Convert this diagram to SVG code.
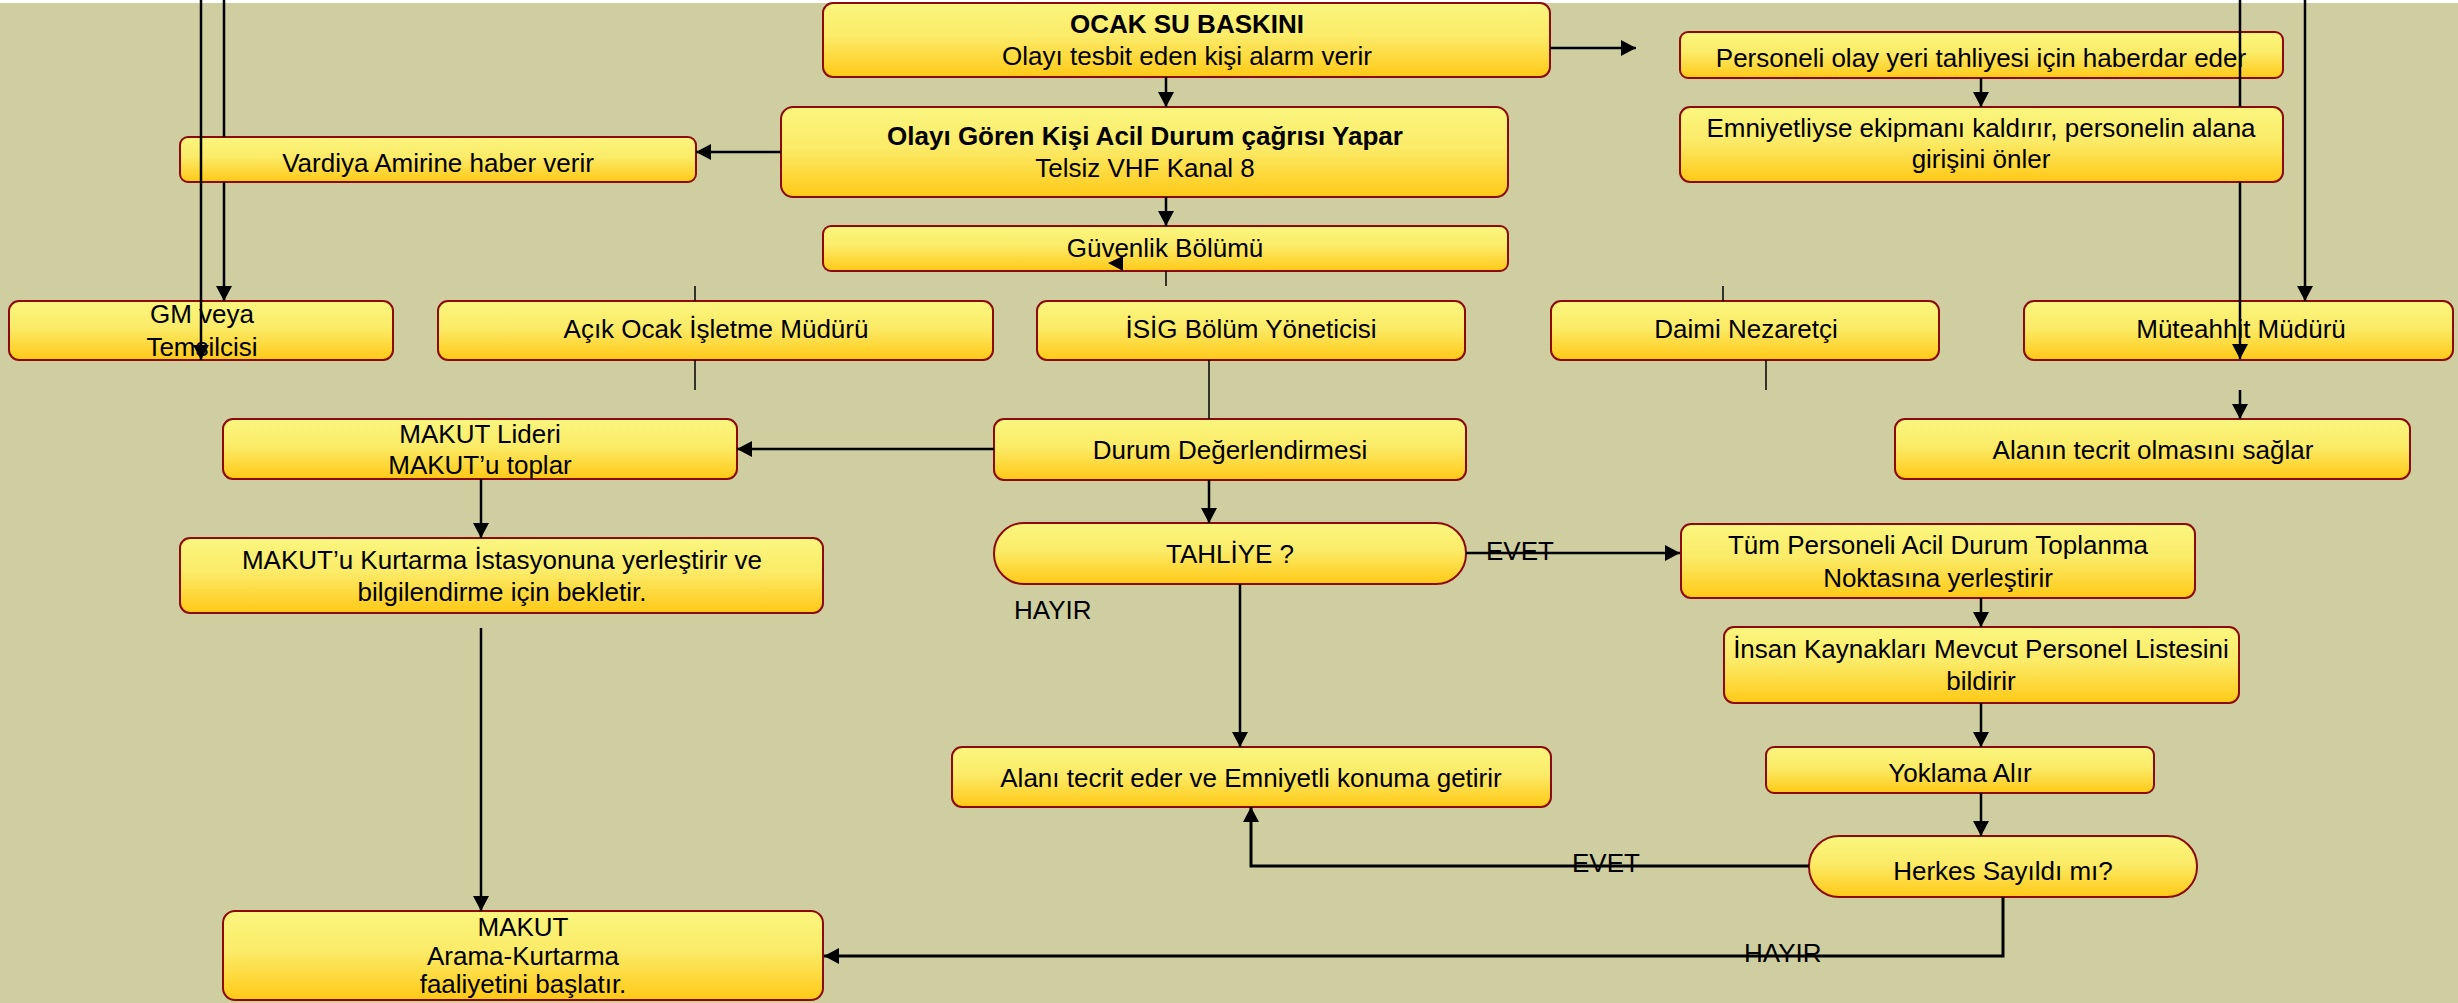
<svg xmlns="http://www.w3.org/2000/svg" width="2458" height="1003" viewBox="0 0 2458 1003">
<defs>
<linearGradient id="gy" x1="0" y1="0" x2="0" y2="1">
<stop offset="0" stop-color="#FAF67F"/>
<stop offset="0.45" stop-color="#FBEB68"/>
<stop offset="1" stop-color="#FFC916"/>
</linearGradient>
<marker id="ah" markerUnits="userSpaceOnUse" markerWidth="16" markerHeight="16" refX="15" refY="8" orient="auto">
<path d="M0,0 L15,8 L0,16 z" fill="#000"/>
</marker>
</defs>
<style>
.box{fill:url(#gy);stroke:#8B0A0A;stroke-width:2}
.t{font-family:"Liberation Sans",Arial,sans-serif;font-size:26px;fill:#000;text-anchor:middle}
.b{font-weight:bold}
.l{font-family:"Liberation Sans",Arial,sans-serif;font-size:26px;fill:#000}
.c{fill:none;stroke:#000;stroke-width:2.5}
.c3{fill:none;stroke:#000;stroke-width:3}
.th{fill:none;stroke:#000;stroke-width:1.5}
.a{marker-end:url(#ah)}
</style>
<rect x="0" y="0" width="2458" height="1003" fill="#FFFFFF"/>
<rect x="0" y="3" width="2458" height="1000" fill="#CFCEA0"/>

<g id="n-ocak"><rect class="box" x="823" y="3" width="727" height="74" rx="10"/>
<text class="t b" x="1187" y="33">OCAK SU BASKINI</text>
<text class="t" x="1187" y="65">Olayı tesbit eden kişi alarm verir</text></g>

<g id="n-olay"><rect class="box" x="781" y="107" width="727" height="90" rx="12"/>
<text class="t b" x="1145" y="145">Olayı Gören Kişi Acil Durum çağrısı Yapar</text>
<text class="t" x="1145" y="177">Telsiz VHF Kanal 8</text></g>

<g id="n-guvenlik"><rect class="box" x="823" y="226" width="685" height="45" rx="8"/>
<text class="t" x="1165" y="257">Güvenlik Bölümü</text></g>

<g id="n-vardiya"><rect class="box" x="180" y="137" width="516" height="45" rx="8"/>
<text class="t" x="438" y="172">Vardiya Amirine haber verir</text></g>

<g id="n-gm"><rect class="box" x="9" y="301" width="384" height="59" rx="10"/>
<text class="t" x="202" y="323">GM veya</text>
<text class="t" x="202" y="356">Temsilcisi</text></g>

<g id="n-acik"><rect class="box" x="438" y="301" width="555" height="59" rx="10"/>
<text class="t" x="716" y="338">Açık Ocak İşletme Müdürü</text></g>

<g id="n-isig"><rect class="box" x="1037" y="301" width="428" height="59" rx="10"/>
<text class="t" x="1251" y="338">İSİG Bölüm Yöneticisi</text></g>

<g id="n-daimi"><rect class="box" x="1551" y="301" width="388" height="59" rx="10"/>
<text class="t" x="1746" y="338">Daimi Nezaretçi</text></g>

<g id="n-muteahhit"><rect class="box" x="2024" y="301" width="429" height="59" rx="10"/>
<text class="t" x="2241" y="338">Müteahhit Müdürü</text></g>

<g id="n-personeli"><rect class="box" x="1680" y="32" width="603" height="46" rx="8"/>
<text class="t" x="1981" y="67">Personeli olay yeri tahliyesi için haberdar eder</text></g>

<g id="n-emniyet"><rect class="box" x="1680" y="107" width="603" height="75" rx="10"/>
<text class="t" x="1981" y="137">Emniyetliyse ekipmanı kaldırır, personelin alana</text>
<text class="t" x="1981" y="168">girişini önler</text></g>

<g id="n-makutlider"><rect class="box" x="223" y="419" width="514" height="60" rx="10"/>
<text class="t" x="480" y="443">MAKUT Lideri</text>
<text class="t" x="480" y="474">MAKUT’u toplar</text></g>

<g id="n-durum"><rect class="box" x="994" y="419" width="472" height="61" rx="10"/>
<text class="t" x="1230" y="459">Durum Değerlendirmesi</text></g>

<g id="n-alanin"><rect class="box" x="1895" y="419" width="515" height="60" rx="10"/>
<text class="t" x="2153" y="459">Alanın tecrit olmasını sağlar</text></g>

<g id="n-kurtarma"><rect class="box" x="180" y="538" width="643" height="75" rx="10"/>
<text class="t" x="502" y="569">MAKUT’u Kurtarma İstasyonuna yerleştirir ve</text>
<text class="t" x="502" y="601">bilgilendirme için bekletir.</text></g>

<g id="n-tahliye"><rect class="box" x="994" y="523" width="472" height="61" rx="30"/>
<text class="t" x="1230" y="563">TAHLİYE ?</text></g>

<g id="n-tum"><rect class="box" x="1681" y="524" width="514" height="74" rx="10"/>
<text class="t" x="1938" y="554">Tüm Personeli Acil Durum Toplanma</text>
<text class="t" x="1938" y="587">Noktasına yerleştirir</text></g>

<g id="n-insan"><rect class="box" x="1724" y="627" width="515" height="76" rx="10"/>
<text class="t" x="1981" y="658">İnsan Kaynakları Mevcut Personel Listesini</text>
<text class="t" x="1981" y="690">bildirir</text></g>

<g id="n-alani"><rect class="box" x="952" y="747" width="599" height="60" rx="10"/>
<text class="t" x="1251" y="787">Alanı tecrit eder ve Emniyetli konuma getirir</text></g>

<g id="n-yoklama"><rect class="box" x="1766" y="747" width="388" height="46" rx="8"/>
<text class="t" x="1960" y="782">Yoklama Alır</text></g>

<g id="n-herkes"><rect class="box" x="1809" y="836" width="388" height="61" rx="30"/>
<text class="t" x="2003" y="880">Herkes Sayıldı mı?</text></g>

<g id="n-makut"><rect class="box" x="223" y="911" width="600" height="89" rx="12"/>
<text class="t" x="523" y="936">MAKUT</text>
<text class="t" x="523" y="965">Arama-Kurtarma</text>
<text class="t" x="523" y="993">faaliyetini başlatır.</text></g>

<g id="connectors">
<line class="c a" x1="1166" y1="77" x2="1166" y2="107"/>
<line class="c a" x1="1166" y1="197" x2="1166" y2="226"/>
<line class="c a" x1="781" y1="152" x2="696" y2="152"/>
<line class="c a" x1="1550" y1="48" x2="1636" y2="48"/>
<line class="c a" x1="1981" y1="78" x2="1981" y2="107"/>
<line class="c" x1="224" y1="0" x2="224" y2="137"/>
<line class="c a" x1="224" y1="182" x2="224" y2="301"/>
<line class="c a" x1="201" y1="0" x2="201" y2="360"/>
<line class="c" x1="2240" y1="0" x2="2240" y2="107"/>
<line class="c a" x1="2240" y1="182" x2="2240" y2="359"/>
<line class="c a" x1="2240" y1="390" x2="2240" y2="419"/>
<line class="c a" x1="2305" y1="0" x2="2305" y2="301"/>
<line class="th" x1="695" y1="286" x2="695" y2="301"/>
<line class="th" x1="695" y1="360" x2="695" y2="390"/>
<line class="th" x1="1166" y1="271" x2="1166" y2="286"/>
<line class="th" x1="1723" y1="286" x2="1723" y2="301"/>
<line class="th" x1="1766" y1="360" x2="1766" y2="390"/>
<line class="th" x1="1209" y1="360" x2="1209" y2="419"/>
<path d="M1108,263 L1123,256 L1123,271 z" fill="#000"/>
<line class="c a" x1="994" y1="449" x2="737" y2="449"/>
<line class="c a" x1="481" y1="479" x2="481" y2="538"/>
<line class="c a" x1="481" y1="628" x2="481" y2="911"/>
<line class="c a" x1="1209" y1="480" x2="1209" y2="523"/>
<line class="c a" x1="1466" y1="553" x2="1680" y2="553"/>
<line class="c a" x1="1240" y1="584" x2="1240" y2="747"/>
<line class="c a" x1="1981" y1="598" x2="1981" y2="627"/>
<line class="c a" x1="1981" y1="703" x2="1981" y2="747"/>
<line class="c a" x1="1981" y1="793" x2="1981" y2="836"/>
<polyline class="c3 a" points="1809,866 1251,866 1251,807"/>
<polyline class="c3 a" points="2003,897 2003,956 824,956"/>
<text class="l" x="1486" y="560">EVET</text>
<text class="l" x="1014" y="619">HAYIR</text>
<text class="l" x="1572" y="872">EVET</text>
<text class="l" x="1744" y="962">HAYIR</text>
</g>
</svg>
